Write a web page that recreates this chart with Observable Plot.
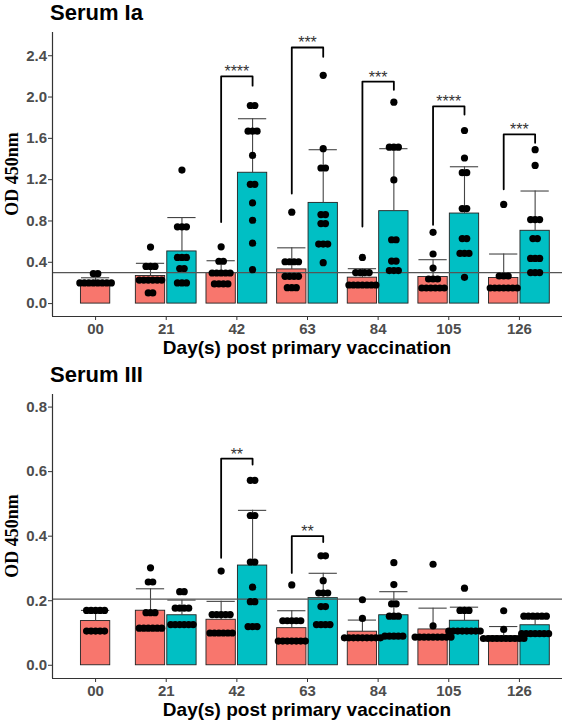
<!DOCTYPE html>
<html><head><meta charset="utf-8">
<script src="https://cdn.jsdelivr.net/npm/d3@7"></script>
<script src="https://cdn.jsdelivr.net/npm/@observablehq/plot@0.6"></script>
<style>
body{margin:0;background:#fff;}
#wrap{position:relative;width:567px;height:724px;overflow:hidden;background:#fff;font-family:"Liberation Sans",Arial,sans-serif;}
.panel{position:absolute;left:0;}
.title{position:absolute;left:50px;font-size:22px;font-weight:bold;line-height:22px;color:#000;white-space:nowrap;}
.xlab{position:absolute;left:52px;width:510px;text-align:center;font-size:19px;font-weight:bold;line-height:19px;color:#000;white-space:nowrap;}
.ylab{position:absolute;font-family:"Liberation Serif","Times New Roman",serif;font-size:18px;font-weight:bold;white-space:nowrap;line-height:18px;transform:translate(-50%,-50%) rotate(-90deg);color:#000;}
</style></head>
<body><div id="wrap"></div>
<script>
const days = ["00","21","42","63","84","105","126"];
const groups = ["Group 1","Group 2"];

// ---- Serum Ia ----
const iaMeanRed   = [0.21, 0.267, 0.296, 0.331, 0.251, 0.257, 0.248];
const iaUpperRed  = [0.25, 0.39, 0.415, 0.54, 0.338, 0.425, 0.48];
const iaMeanCyan  = [null, 0.505, 1.267, 0.975, 0.895, 0.872, 0.705];
const iaUpperCyan = [null, 0.833, 1.79, 1.49, 1.50, 1.325, 1.09];
// dots as [value, count] rows
const iaDotsRed = [
  [[0.29,2],[0.20,8]],
  [[0.547,1],[0.36,3],[0.228,6],[0.103,2]],
  [[0.55,1],[0.41,2],[0.296,5],[0.19,4]],
  [[0.885,1],[0.405,4],[0.264,4],[0.154,3]],
  [[0.447,1],[0.30,4],[0.18,7]],
  [[0.69,1],[0.48,1],[0.344,1],[0.238,3],[0.151,6]],
  [[0.96,1],[0.267,3],[0.151,7]]
];
const iaDotsCyan = [
  [],
  [[1.293,1],[0.743,3],[0.447,3],[0.34,2],[0.20,3]],
  [[1.918,2],[1.67,3],[1.435,1],[1.155,2],[0.975,1],[0.807,1],[0.585,1],[0.328,1]],
  [[2.21,1],[1.50,1],[1.313,2],[0.862,2],[0.775,2],[0.576,3],[0.396,1]],
  [[1.95,1],[1.515,3],[1.197,1],[0.618,2],[0.412,2],[0.32,3]],
  [[1.676,1],[1.41,1],[1.268,2],[0.92,2],[0.63,2],[0.486,3],[0.254,1]],
  [[1.49,1],[1.338,1],[0.814,3],[0.63,2],[0.437,3],[0.30,3]]
];
const iaCutoff = 0.30;
const iaSigDays   = ["42","63","84","105","126"];
const iaSigLabels = ["****","***","***","****","***"];
const iaSigLeft   = [0.79, 1.065, 0.746, 0.763, 1.107];
const iaSigTop    = [2.20, 2.48, 2.15, 1.91, 1.638];
const iaSigRight  = [2.11, 2.39, 2.07, 1.83, 1.557];
const iaYDomain = [-0.125, 2.625];
const iaYTicks  = [0, 0.4, 0.8, 1.2, 1.6, 2.0, 2.4];

// ---- Serum III ----
const iiiMeanRed   = [0.137, 0.169, 0.141, 0.115, 0.104, 0.111, 0.09];
const iiiUpperRed  = [0.17, 0.237, 0.198, 0.169, 0.14, 0.177, 0.12];
const iiiMeanCyan  = [null, 0.155, 0.309, 0.208, 0.155, 0.138, 0.124];
const iiiUpperCyan = [null, 0.202, 0.48, 0.285, 0.228, 0.18, 0.152];
const iiiDotsRed = [
  [[0.17,5],[0.106,5]],
  [[0.302,1],[0.258,2],[0.163,3],[0.115,6]],
  [[0.292,1],[0.157,5],[0.10,6]],
  [[0.249,1],[0.138,5],[0.075,7]],
  [[0.203,1],[0.145,1],[0.085,9]],
  [[0.313,1],[0.122,1],[0.0875,9]],
  [[0.169,1],[0.111,1],[0.083,10]]
];
const iiiDotsCyan = [
  [],
  [[0.228,2],[0.177,4],[0.126,6]],
  [[0.573,2],[0.464,2],[0.32,2],[0.242,1],[0.197,2],[0.12,3]],
  [[0.339,2],[0.262,1],[0.224,3],[0.182,2],[0.126,4]],
  [[0.318,1],[0.25,1],[0.19,2],[0.152,3],[0.09,5]],
  [[0.239,1],[0.17,3],[0.106,8]],
  [[0.152,6],[0.098,7]]
];
const iiiCutoff = 0.205;
const iiiSigDays   = ["42","63"];
const iiiSigLabels = ["**","**"];
const iiiSigLeft   = [0.333, 0.286];
const iiiSigTop    = [0.64, 0.40];
const iiiSigRight  = [0.622, 0.382];
const iiiYDomain = [-0.041, 0.839];
const iiiYTicks  = [0, 0.2, 0.4, 0.6, 0.8];

// ---- layout constants ----
const FILLS = ["#F8766D", "#00BFC4"];
const XDOM = [-0.61, 6.61];
const PXU = 510 / (XDOM[1] - XDOM[0]);
const OFF = 0.2225, HALF = 0.2075, CAP = 0.2, SP = 4.5 / PXU;

function buildPanel(c) {
  const bars = [], dots = [], brk = [], sig = [];
  days.forEach((d, i) => {
    const hasCyan = c.meanCyan[i] != null;
    const specs = [[groups[0], c.meanRed[i], c.upperRed[i], c.dotsRed[i], hasCyan ? i - OFF : i]];
    if (hasCyan) specs.push([groups[1], c.meanCyan[i], c.upperCyan[i], c.dotsCyan[i], i + OFF]);
    for (const [g, mean, upper, rows, cx] of specs) {
      bars.push({g, mean, upper, c: cx, x1: cx - HALF, x2: cx + HALF});
      for (const [v, n] of rows)
        for (let k = 0; k < n; k++) dots.push({v, x: cx + (k - (n - 1) / 2) * SP});
    }
  });
  c.sigDays.forEach((d, j) => {
    const i = days.indexOf(d);
    const l = i - OFF, r = i + OFF;
    brk.push({id: j, x: l, y: c.sigLeft[j]}, {id: j, x: l, y: c.sigTop[j]},
             {id: j, x: r, y: c.sigTop[j]}, {id: j, x: r, y: c.sigRight[j]});
    sig.push({x: i, top: c.sigTop[j], label: c.sigLabels[j]});
  });
  return Plot.plot({
    width: 567, height: 340,
    marginTop: 32, marginBottom: 24, marginLeft: 52, marginRight: 5,
    style: {fontFamily: "Liberation Sans, Arial, sans-serif", background: "transparent", overflow: "visible"},
    x: {domain: XDOM, axis: null},
    y: {domain: c.yDomain, axis: null},
    color: {type: "ordinal", domain: groups, range: FILLS},
    marks: [
      Plot.rect(bars, {x1: "x1", x2: "x2", y1: 0, y2: "mean", fill: "g", stroke: "#222", strokeWidth: 0.9}),
      Plot.ruleX(bars, {x: "c", y1: "mean", y2: "upper", stroke: "#444", strokeWidth: 1.1}),
      Plot.ruleY(bars, {y: "upper", x1: d => d.c - CAP, x2: d => d.c + CAP, stroke: "#444", strokeWidth: 1.1}),
      Plot.ruleY([c.cutoff], {stroke: "#555", strokeWidth: 1.2}),
      Plot.dot(dots, {x: "x", y: "v", r: 3.6, fill: "#000", stroke: "none"}),
      Plot.line(brk, {x: "x", y: "y", z: "id", stroke: "#000", strokeWidth: 1.8, curve: "linear"}),
      Plot.text(sig, {x: "x", y: "top", text: "label", lineAnchor: "bottom", dy: 1, fontSize: 16, fill: "#333"}),
      Plot.axisY({ticks: c.yTicks, tickFormat: d3.format(".1f"), tickSize: 4, tickPadding: 1.5,
                  fontSize: 15, fontWeight: "bold", fill: "#4d4d4d", stroke: "#333", label: null}),
      Plot.axisX({ticks: d3.range(days.length), tickFormat: i => days[i], tickSize: 4, tickPadding: 3,
                  fontSize: 15, fontWeight: "bold", fill: "#4d4d4d", stroke: "#333", label: null}),
      Plot.ruleX([XDOM[0]], {stroke: "#333", strokeWidth: 1.2}),
      Plot.ruleY([c.yDomain[0]], {stroke: "#333", strokeWidth: 1.2})
    ]
  });
}

const wrap = document.getElementById("wrap");
function addPanel(top, title, cfg) {
  const svg = buildPanel(cfg);
  svg.classList.add("panel");
  svg.style.top = top + "px";
  wrap.appendChild(svg);
  const t = document.createElement("div");
  t.className = "title"; t.textContent = title; t.style.top = (top + 2) + "px";
  wrap.appendChild(t);
  const xl = document.createElement("div");
  xl.className = "xlab"; xl.textContent = "Day(s) post primary vaccination"; xl.style.top = (top + 338) + "px";
  wrap.appendChild(xl);
  const yl = document.createElement("div");
  yl.className = "ylab"; yl.textContent = "OD 450nm"; yl.style.left = "12px"; yl.style.top = (top + 174) + "px";
  wrap.appendChild(yl);
}

addPanel(0, "Serum Ia", {
  meanRed: iaMeanRed, upperRed: iaUpperRed, meanCyan: iaMeanCyan, upperCyan: iaUpperCyan,
  dotsRed: iaDotsRed, dotsCyan: iaDotsCyan, cutoff: iaCutoff,
  sigDays: iaSigDays, sigLabels: iaSigLabels, sigLeft: iaSigLeft, sigTop: iaSigTop, sigRight: iaSigRight,
  yDomain: iaYDomain, yTicks: iaYTicks
});
addPanel(362, "Serum III", {
  meanRed: iiiMeanRed, upperRed: iiiUpperRed, meanCyan: iiiMeanCyan, upperCyan: iiiUpperCyan,
  dotsRed: iiiDotsRed, dotsCyan: iiiDotsCyan, cutoff: iiiCutoff,
  sigDays: iiiSigDays, sigLabels: iiiSigLabels, sigLeft: iiiSigLeft, sigTop: iiiSigTop, sigRight: iiiSigRight,
  yDomain: iiiYDomain, yTicks: iiiYTicks
});
</script>
</body></html>
